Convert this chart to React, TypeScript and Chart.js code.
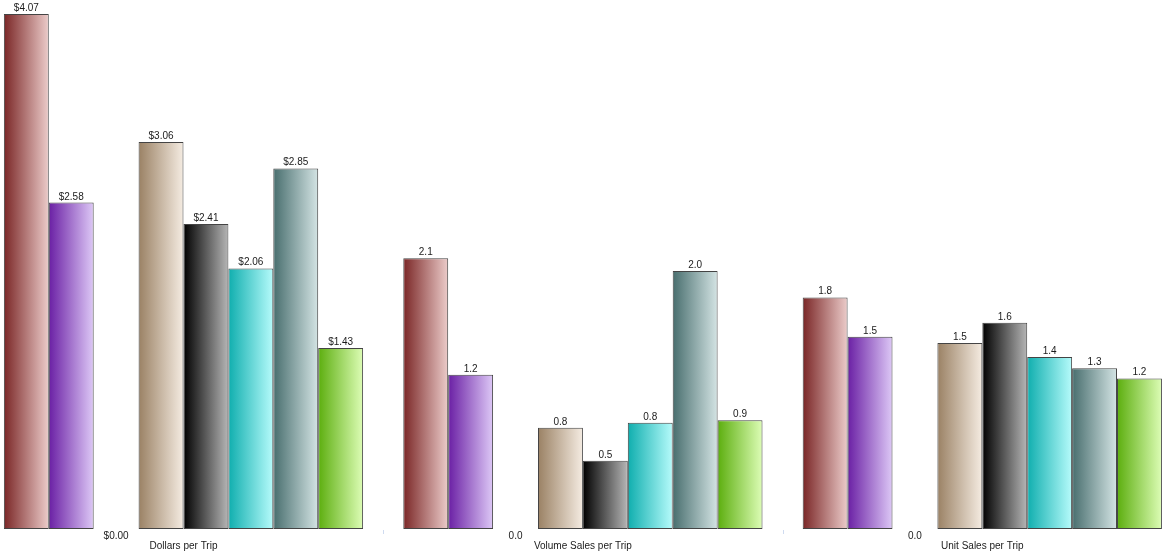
import { useEffect, useRef } from 'react';
import { Chart, registerables } from 'chart.js';

Chart.register(...registerables);

// Categories (one panel per metric)
const metrics = ['Dollars per Trip', 'Volume Sales per Trip', 'Unit Sales per Trip'];

// Series values, one value per metric
const redValues = [4.07, 2.14, 1.83];
const purpleValues = [2.58, 1.22, 1.52];
const tanValues = [3.06, 0.8, 1.47];
const blackValues = [2.41, 0.54, 1.63];
const cyanValues = [2.06, 0.84, 1.36];
const tealValues = [2.85, 2.04, 1.27];
const greenValues = [1.43, 0.86, 1.19];

// Gradient colour stops (left -> right) for each series
const redStops = ['#7a2626', '#ecccca'];
const purpleStops = ['#6a1fa4', '#ddc8f6'];
const tanStops = ['#9a8164', '#f5ece2'];
const blackStops = ['#000000', '#b6b6b6'];
const cyanStops = ['#0faeae', '#b6fbfb'];
const tealStops = ['#486e6e', '#d4e4e4'];
const greenStops = ['#5cae0e', '#ddfdb6'];

const Y_MAX = 4.15;

const formatValue = (v: number, metricIndex: number) =>
  metricIndex === 0 ? '$' + v.toFixed(2) : v.toFixed(1);

const FONT = '10px "Liberation Sans", Arial, sans-serif';

type SeriesDef = { label: string; values: number[]; stops: string[] | null };

const seriesDefs: SeriesDef[] = [
  { label: 'Series 1', values: redValues, stops: redStops },
  { label: 'Series 2', values: purpleValues, stops: purpleStops },
  { label: '', values: [], stops: null }, // empty slot between the two groups
  { label: 'Series 3', values: tanValues, stops: tanStops },
  { label: 'Series 4', values: blackValues, stops: blackStops },
  { label: 'Series 5', values: cyanValues, stops: cyanStops },
  { label: 'Series 6', values: tealValues, stops: tealStops },
  { label: 'Series 7', values: greenValues, stops: greenStops },
];

const gradientPlugin = {
  id: 'barGradients',
  beforeDatasetsDraw(chart: any) {
    const ctx = chart.ctx;
    seriesDefs.forEach((def, di) => {
      if (!def.stops) return;
      const meta = chart.getDatasetMeta(di);
      meta.data.forEach((el: any) => {
        const { x, width } = el.getProps(['x', 'width'], true);
        if (!isFinite(x) || !isFinite(width)) return;
        const g = ctx.createLinearGradient(x - width / 2, 0, x + width / 2, 0);
        g.addColorStop(0, def.stops![0]);
        g.addColorStop(1, def.stops![1]);
        el.options = { ...el.options, backgroundColor: g };
      });
    });
  },
};

const labelsPlugin = {
  id: 'barLabels',
  afterDatasetsDraw(chart: any) {
    const ctx = chart.ctx;
    const area = chart.chartArea;
    const xScale = chart.scales.x;
    ctx.save();
    ctx.font = FONT;
    ctx.fillStyle = '#1a1a1a';
    ctx.textAlign = 'center';
    ctx.textBaseline = 'alphabetic';
    // value labels
    seriesDefs.forEach((def, di) => {
      if (!def.stops) return;
      const meta = chart.getDatasetMeta(di);
      meta.data.forEach((el: any, i: number) => {
        const { x, y } = el.getProps(['x', 'y'], true);
        ctx.fillText(formatValue(def.values[i], i), x, y - 3);
      });
    });
    // zero labels in the gap slot, and metric names
    const leftMeta = chart.getDatasetMeta(1);
    const rightMeta = chart.getDatasetMeta(3);
    metrics.forEach((name, i) => {
      const a = leftMeta.data[i];
      const b = rightMeta.data[i];
      if (a && b) {
        const gx = (a.x + b.x) / 2;
        ctx.fillText(formatValue(0, i), gx, area.bottom + 10);
      }
      ctx.fillText(name, xScale.getPixelForValue(i), area.bottom + 20);
    });
    // faint separators between metric panels
    ctx.strokeStyle = '#cfdbf0';
    ctx.lineWidth = 1;
    for (let i = 0; i < metrics.length - 1; i++) {
      const px = Math.round(xScale.getPixelForValue(i + 0.5)) + 0.5;
      ctx.beginPath();
      ctx.moveTo(px, area.bottom + 1);
      ctx.lineTo(px, area.bottom + 5);
      ctx.stroke();
    }
    ctx.restore();
  },
};

export default function App() {
  const canvasRef = useRef<HTMLCanvasElement | null>(null);

  useEffect(() => {
    if (!canvasRef.current) return;
    const chart = new Chart(canvasRef.current, {
      type: 'bar',
      data: {
        datasets: seriesDefs.map((def) => ({
          label: def.label,
          data: def.values.map((v, i) => ({ x: i, y: v })),
          backgroundColor: def.stops ? def.stops[0] : 'transparent',
          borderColor: '#444444',
          borderWidth: 1,
          borderSkipped: false,
          categoryPercentage: 0.8994,
          barPercentage: 1,
        })),
      },
      options: {
        animation: false,
        responsive: true,
        maintainAspectRatio: false,
        layout: { padding: { top: 4, bottom: 23, left: 0, right: 0 } },
        plugins: {
          legend: { display: false },
          tooltip: { enabled: false },
        },
        scales: {
          x: {
            type: 'linear',
            display: false,
            offset: false,
            grid: { offset: false },
            min: -0.4594,
            max: 2.4574,
            afterBuildTicks: (scale: any) => {
              scale.ticks = metrics.map((_, i) => ({ value: i }));
            },
          },
          y: {
            display: false,
            min: 0,
            max: Y_MAX,
          },
        },
      },
      plugins: [gradientPlugin, labelsPlugin],
    } as any);
    return () => chart.destroy();
  }, []);

  return (
    <div style={{ position: 'absolute', left: 0, top: 0, width: 1165, height: 552 }}>
      <canvas ref={canvasRef} />
    </div>
  );
}
